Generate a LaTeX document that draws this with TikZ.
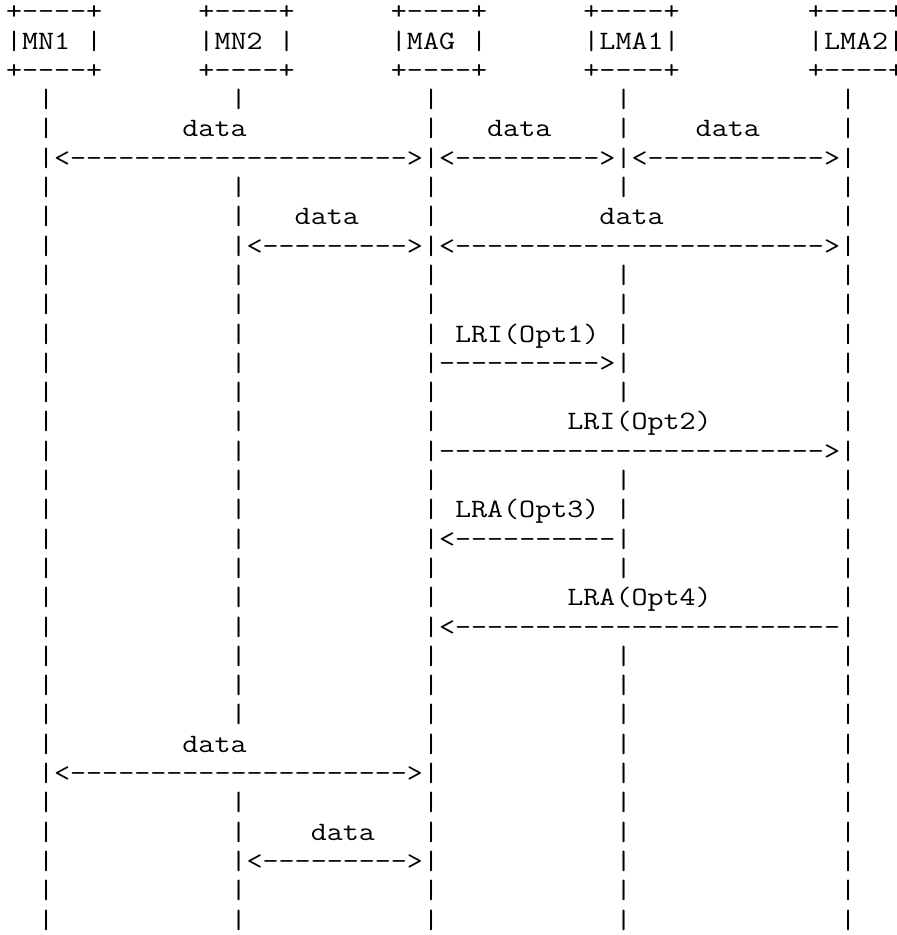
\documentclass[tikz,border=0pt]{standalone}
\usepackage{graphicx}
% repeat a character n times
\ExplSyntaxOn
\NewDocumentCommand\chrep{mm}{\prg_replicate:nn{#1}{#2}}
\ExplSyntaxOff
% the five lifelines alone, and the three left ones (columns 0-26)
\newcommand\lifelines{~~|\chrep{11}{~}|\chrep{11}{~}|\chrep{11}{~}|\chrep{13}{~}|}
\newcommand\leftpart{~~|\chrep{11}{~}|\chrep{11}{~}|}
\newcommand\boxedge{+----+\chrep{6}{~}+----+\chrep{6}{~}+----+\chrep{6}{~}+----+\chrep{8}{~}+----+}
\tikzset{
  asciirow/.style={anchor=base west, inner sep=0pt, outer sep=0pt,
    font=\ttfamily\fontsize{26.5}{29.3}\selectfont, text=black},
}
% one text row on a 16 x 29.3 character grid
\newcommand\arow[2]{\node[asciirow] (row#1) at (6,{-(19.7+29.3*#1)}) {\scalebox{1.1753}[1]{#2}};}
\begin{document}
\begin{tikzpicture}[x=1pt,y=1pt]
\fill[white] (0,0) rectangle (897,-935);
\clip (0,0) rectangle (897,-935);
\arow{0}{\boxedge}
\arow{1}{|MN1~|\chrep{6}{~}|MN2~|\chrep{6}{~}|MAG~|\chrep{6}{~}|LMA1|\chrep{8}{~}|LMA2|}
\arow{2}{\boxedge}
\arow{3}{\lifelines}
\arow{4}{~~|\chrep{8}{~}data\chrep{11}{~}|~~~data~~~~|~~~~data\chrep{5}{~}|}
\arow{5}{~~|<\chrep{21}{-}>|<\chrep{9}{-}>|<\chrep{11}{-}>|}
\arow{6}{\lifelines}
\arow{7}{~~|\chrep{11}{~}|~~~data~~~~|\chrep{10}{~}data\chrep{11}{~}|}
\arow{8}{~~|\chrep{11}{~}|<\chrep{9}{-}>|<\chrep{23}{-}>|}
\arow{9}{\lifelines}
\arow{10}{\lifelines}
\arow{11}{\leftpart~LRI(Opt1)~|\chrep{13}{~}|}
\arow{12}{\leftpart\chrep{10}{-}>|\chrep{13}{~}|}
\arow{13}{\lifelines}
\arow{14}{\leftpart\chrep{8}{~}LRI(Opt2)\chrep{8}{~}|}
\arow{15}{\leftpart\chrep{24}{-}>|}
\arow{16}{\lifelines}
\arow{17}{\leftpart~LRA(Opt3)~|\chrep{13}{~}|}
\arow{18}{\leftpart<\chrep{10}{-}|\chrep{13}{~}|}
\arow{19}{\lifelines}
\arow{20}{\leftpart\chrep{8}{~}LRA(Opt4)\chrep{8}{~}|}
\arow{21}{\leftpart<\chrep{24}{-}|}
\arow{22}{\lifelines}
\arow{23}{\lifelines}
\arow{24}{\lifelines}
\arow{25}{~~|\chrep{8}{~}data\chrep{11}{~}|\chrep{11}{~}|\chrep{13}{~}|}
\arow{26}{~~|<\chrep{21}{-}>|\chrep{11}{~}|\chrep{13}{~}|}
\arow{27}{\lifelines}
\arow{28}{~~|\chrep{11}{~}|~~~~data~~~|\chrep{11}{~}|\chrep{13}{~}|}
\arow{29}{~~|\chrep{11}{~}|<\chrep{9}{-}>|\chrep{11}{~}|\chrep{13}{~}|}
\arow{30}{\lifelines}
\arow{31}{\lifelines}
\end{tikzpicture}
\end{document}
